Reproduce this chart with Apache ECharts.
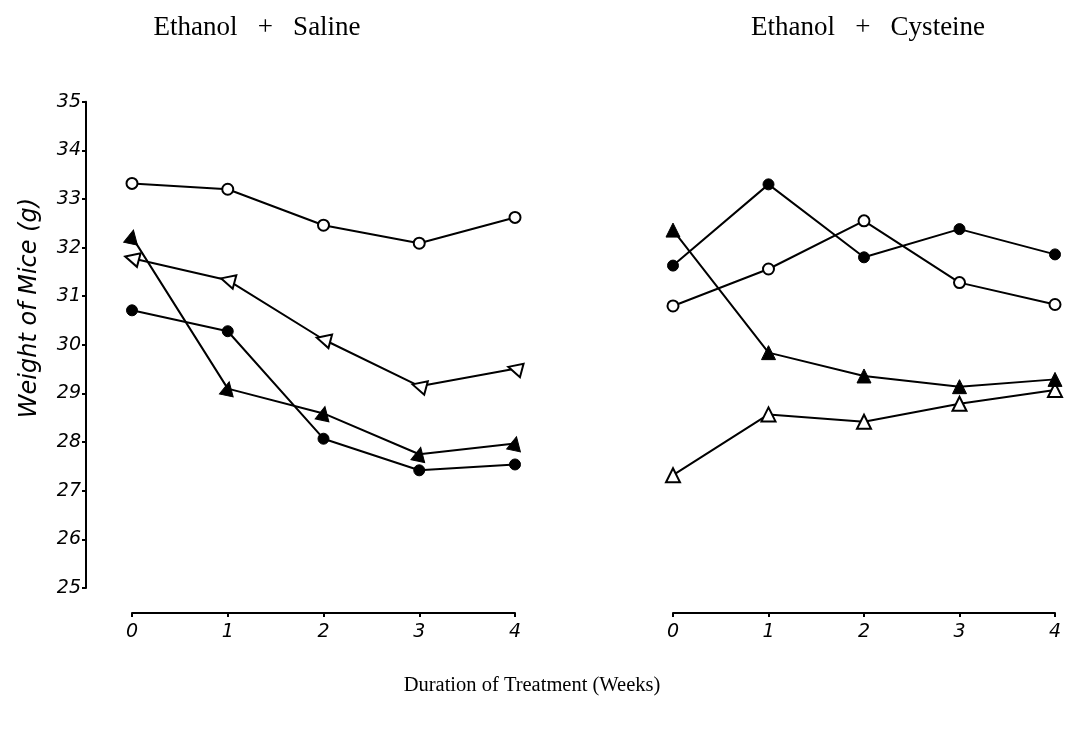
<!DOCTYPE html>
<html>
<head>
<meta charset="utf-8">
<script src="https://cdn.jsdelivr.net/npm/echarts@6/dist/echarts.min.js"></script>
<style>
  html, body { margin: 0; padding: 0; background: #fff; }
  #main { width: 1065px; height: 729px; }
</style>
</head>
<body>
<div id="main"></div>
<script>
// weeks on the x axis
const weeks = [0, 1, 2, 3, 4];
const weekLabels = ["0", "1", "2", "3", "4"];

// Ethanol + Saline (left panel)
const salineOpenCircle = [33.32, 33.20, 32.46, 32.09, 32.62];
const salineFilledCircle = [30.71, 30.28, 28.07, 27.42, 27.54];
const salineOpenTriangle = [31.78, 31.33, 30.11, 29.15, 29.51];
const salineFilledTriangle = [32.22, 29.10, 28.59, 27.75, 27.97];

// Ethanol + Cysteine (right panel)
const cysteineOpenCircle = [30.80, 31.56, 32.55, 31.28, 30.83];
const cysteineFilledCircle = [31.63, 33.30, 31.80, 32.38, 31.86];
const cysteineOpenTriangle = [27.32, 28.57, 28.42, 28.79, 29.07];
const cysteineFilledTriangle = [32.36, 29.84, 29.36, 29.14, 29.29];

const labelFont = {
  color: "#000",
  fontFamily: "DejaVu Sans",
  fontStyle: "italic",
  fontSize: 19
};
const serif = "Liberation Serif";

function pairs(values) {
  return weeks.map((w, i) => [w, values[i]]);
}

// one line series, open or filled marker
function line(name, values, idx, symbol, filled, rotate) {
  return {
    name: name,
    type: "line",
    xAxisIndex: idx,
    yAxisIndex: idx,
    data: pairs(values),
    symbol: symbol,
    symbolSize: symbol === "circle" ? 11 : 14,
    symbolRotate: rotate || 0,
    showAllSymbol: true,
    lineStyle: { color: "#000", width: 2 },
    itemStyle: filled
      ? { color: "#000", borderColor: "#000", borderWidth: 1 }
      : { color: "#fff", borderColor: "#000", borderWidth: 2 },
    emphasis: { disabled: true },
    animation: false
  };
}

function xAxis(idx) {
  return {
    type: "value",
    gridIndex: idx,
    min: 0,
    max: 4,
    interval: 1,
    offset: 25,
    axisLine: { show: true, onZero: false, lineStyle: { color: "#000", width: 2 } },
    axisTick: { show: true, length: 4, lineStyle: { color: "#000", width: 2 } },
    axisLabel: Object.assign({
      margin: 10,
      formatter: v => weekLabels[v]
    }, labelFont),
    splitLine: { show: false }
  };
}

const chart = echarts.init(document.getElementById("main"), null, { renderer: "canvas" });

chart.setOption({
  backgroundColor: "#fff",
  animation: false,
  grid: [
    { left: 132, right: 550, top: 101.7, bottom: 141 },
    { left: 673, right: 10, top: 101.7, bottom: 141 }
  ],
  xAxis: [xAxis(0), xAxis(1)],
  yAxis: [
    {
      type: "value",
      gridIndex: 0,
      min: 25,
      max: 35,
      interval: 1,
      offset: 46,
      axisLine: { show: true, onZero: false, lineStyle: { color: "#000", width: 2 } },
      axisTick: { show: true, length: 4, lineStyle: { color: "#000", width: 2 } },
      axisLabel: Object.assign({ margin: 5 }, labelFont),
      splitLine: { show: false }
    },
    {
      type: "value",
      gridIndex: 1,
      min: 25,
      max: 35,
      interval: 1,
      show: false,
      splitLine: { show: false }
    }
  ],
  graphic: [
    {
      type: "text",
      x: 257, y: 28,
      style: { text: "Ethanol   +   Saline", font: "27px " + serif, fill: "#000", textAlign: "center", textVerticalAlign: "middle" }
    },
    {
      type: "text",
      x: 868, y: 28,
      style: { text: "Ethanol   +   Cysteine", font: "27px " + serif, fill: "#000", textAlign: "center", textVerticalAlign: "middle" }
    },
    {
      type: "text",
      x: 532, y: 686,
      style: { text: "Duration of Treatment (Weeks)", font: "20.5px " + serif, fill: "#000", textAlign: "center", textVerticalAlign: "middle" }
    },
    {
      type: "text",
      x: 30, y: 308,
      rotation: Math.PI / 2,
      style: { text: "Weight of Mice (g)", font: "italic 24px DejaVu Sans", fill: "#000", textAlign: "center", textVerticalAlign: "middle" }
    }
  ],
  series: [
    line("Saline open circle", salineOpenCircle, 0, "circle", false),
    line("Saline filled circle", salineFilledCircle, 0, "circle", true),
    line("Saline open triangle", salineOpenTriangle, 0, "triangle", false, 75),
    line("Saline filled triangle", salineFilledTriangle, 0, "triangle", true, -12),
    line("Cysteine open circle", cysteineOpenCircle, 1, "circle", false),
    line("Cysteine filled circle", cysteineFilledCircle, 1, "circle", true),
    line("Cysteine open triangle", cysteineOpenTriangle, 1, "triangle", false),
    line("Cysteine filled triangle", cysteineFilledTriangle, 1, "triangle", true)
  ]
});
</script>
</body>
</html>
